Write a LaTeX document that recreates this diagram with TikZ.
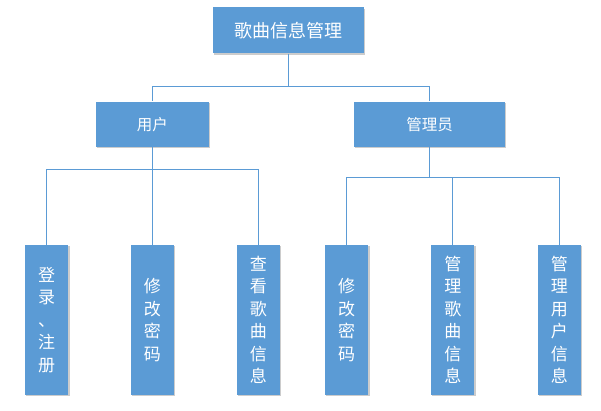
\documentclass[tikz,border=0pt]{standalone}
\usepackage{fontspec}
\setmainfont{Noto Sans CJK SC}
\usetikzlibrary{calc,shadows}
\definecolor{boxblue}{RGB}{91,155,213}

\begin{document}
\begin{tikzpicture}[x=1pt,y=1pt,
    box/.style={rectangle,fill=boxblue,text=white,inner sep=0pt,
      drop shadow={shadow xshift=1.2pt,shadow yshift=-1.2pt,opacity=0.2,fill=black}},
    leaf/.style={box,minimum width=43.3pt,minimum height=150pt,align=center,
      font=\fontsize{17}{22.5}\selectfont},
    link/.style={draw=boxblue,line width=0.9pt}]
      \useasboundingbox (0,0) rectangle (601,-411);
      \node (root) [box,minimum width=151pt,minimum height=46pt,
        font=\fontsize{18}{20}\selectfont] at (288.4,-30.4) {歌曲信息管理};
      \node (user) [box,minimum width=113.3pt,minimum height=45.6pt,
        font=\fontsize{15.5}{18}\selectfont] at (152.4,-124.5) {用户};
      \node (admin) [box,minimum width=151pt,minimum height=45.6pt,
        font=\fontsize{15.5}{18}\selectfont] at (429.5,-124.5) {管理员};
      \foreach \n/\x/\t in {u1/46.7/{登\\录\\、\\注\\册},u2/152.4/{修\\改\\密\\码},
          u3/258.4/{查\\看\\歌\\曲\\信\\息},a1/346.7/{修\\改\\密\\码},
          a2/452.8/{管\\理\\歌\\曲\\信\\息},a3/559.3/{管\\理\\用\\户\\信\\息}}{
        \node (\n) [leaf] at (\x,-320) {\t};
      }
      \draw [link] (root.south) -- ++(0,-32.5) -| (user.north);
      \draw [link] (root.south) -- ++(0,-32.5) -| (admin.north);
      \foreach \x in {1,2,3}{
        \draw [link] (user.south) -- ++(0,-21.7) -| (u\x.north);
        \draw [link] (admin.south) -- ++(0,-29.7) -| (a\x.north);
      }
    \end{tikzpicture}
\end{document}
